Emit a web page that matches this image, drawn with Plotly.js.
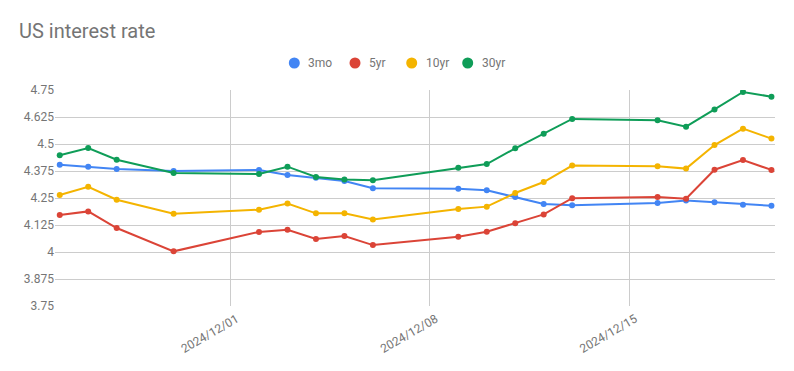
<!DOCTYPE html>
<html>
<head>
<meta charset="utf-8">
<script src="https://cdn.plot.ly/plotly-3.0.1.min.js"></script>
<style>html,body{margin:0;padding:0;background:#fff;}#chart{width:794px;height:371px;}</style>
</head>
<body>
<div id="chart"></div>
<script>
const dates = ['2024-11-25','2024-11-26','2024-11-27','2024-11-29','2024-12-02','2024-12-03','2024-12-04','2024-12-05','2024-12-06','2024-12-09','2024-12-10','2024-12-11','2024-12-12','2024-12-13','2024-12-16','2024-12-17','2024-12-18','2024-12-19','2024-12-20'];
const rate3mo = [4.404,4.395,4.384,4.375,4.380,4.356,4.344,4.329,4.295,4.293,4.286,4.255,4.222,4.216,4.227,4.238,4.230,4.219,4.214];
const rate5yr = [4.171,4.188,4.111,4.003,4.093,4.103,4.060,4.074,4.032,4.071,4.094,4.133,4.174,4.249,4.255,4.247,4.381,4.426,4.380];
const rate10yr = [4.264,4.302,4.242,4.177,4.196,4.224,4.179,4.179,4.150,4.199,4.210,4.273,4.324,4.400,4.397,4.386,4.495,4.571,4.525];
const rate30yr = [4.448,4.481,4.427,4.366,4.361,4.395,4.347,4.336,4.332,4.390,4.407,4.480,4.548,4.616,4.610,4.580,4.660,4.741,4.719];
const seriesNames = ['3mo','5yr','10yr','30yr'];
const seriesColors = ['#4285F4','#DB4437','#F4B400','#0F9D58'];
const yTicks = [3.75,3.875,4,4.125,4.25,4.375,4.5,4.625,4.75];
const xTicks = ['2024-12-01','2024-12-08','2024-12-15'];
const xTickText = ['2024/12/01','2024/12/08','2024/12/15'];

const W = 794, H = 371;
const M = {l: 55, r: 19, t: 90, b: 65};
const PW = W - M.l - M.r, PH = H - M.t - M.b;
const px2x = p => (p - M.l) / PW;
const py2y = p => (H - M.b - p) / PH;

const allSeries = [rate3mo, rate5yr, rate10yr, rate30yr];
const traces = allSeries.map((vals, i) => ({
  x: dates, y: vals, type: 'scatter', mode: 'lines+markers',
  name: seriesNames[i], showlegend: false,
  line: {color: seriesColors[i], width: 2},
  marker: {color: seriesColors[i], size: 6}
}));

// custom legend (Google-Charts style: dot + label), centred above the plot
const legendDotX = [294.3, 355, 411.7, 467.7];
const legendY = 63;
const shapes = [];
const annotations = [];
seriesNames.forEach((n, i) => {
  shapes.push({
    type: 'circle', xref: 'paper', yref: 'paper',
    xsizemode: 'pixel', ysizemode: 'pixel',
    xanchor: px2x(legendDotX[i]), yanchor: py2y(legendY),
    x0: -5.5, x1: 5.5, y0: -5.5, y1: 5.5,
    fillcolor: seriesColors[i], line: {width: 0}
  });
  annotations.push({
    text: n, xref: 'paper', yref: 'paper',
    x: px2x(legendDotX[i] + 12), y: py2y(legendY),
    xanchor: 'left', yanchor: 'middle', showarrow: false,
    font: {size: 12, color: '#757575', family: 'Roboto, Arial, sans-serif'}
  });
});

const layout = {
  width: W, height: H,
  margin: M,
  paper_bgcolor: '#fff', plot_bgcolor: '#fff',
  font: {family: 'Roboto, Arial, sans-serif', color: '#757575', size: 12},
  title: {text: 'US interest rate', xref: 'container', x: 19 / W, xanchor: 'left',
          yref: 'container', y: 1 - 31 / H, yanchor: 'middle', pad: {t: 0, b: 0, l: 0, r: 0},
          font: {size: 20, color: '#757575', family: 'Roboto, Arial, sans-serif'}},
  showlegend: false,
  shapes: shapes,
  annotations: annotations,
  xaxis: {
    type: 'date', range: ['2024-11-24 20:00', '2024-12-20 03:00'],
    tickvals: xTicks, ticktext: xTickText, tickangle: -30,
    ticklabelshift: 6, ticklabelstandoff: 3,
    showgrid: true, gridcolor: '#cccccc', gridwidth: 1,
    zeroline: false, showline: false, ticks: '',
    tickfont: {size: 12, color: '#757575'}, fixedrange: true
  },
  yaxis: {
    range: [3.75, 4.75], tickvals: yTicks, ticktext: yTicks.map(v => String(v)),
    showgrid: true, gridcolor: '#cccccc', gridwidth: 1,
    zeroline: false, showline: false, ticks: '',
    tickfont: {size: 12, color: '#757575'}, fixedrange: true
  }
};
Plotly.newPlot('chart', traces, layout, {displayModeBar: false, staticPlot: true});
</script>
</body>
</html>
